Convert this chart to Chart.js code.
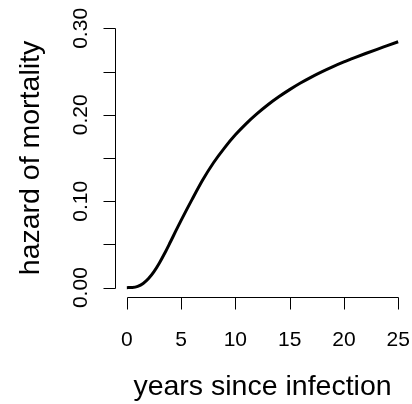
<!DOCTYPE html>
<html>
<head>
<meta charset="utf-8">
<script src="https://cdn.jsdelivr.net/npm/chart.js@4"></script>
<style>
  html, body { margin: 0; padding: 0; background: #fff; }
  canvas { display: block; }
</style>
</head>
<body>
<canvas id="hazardChart" width="412" height="404"></canvas>
<script>
// values
const years = [0, 0.5, 1, 1.5, 2, 2.5, 3, 3.5, 4, 4.5, 5, 6, 7, 8, 9, 10, 11, 12, 13, 14, 15, 16, 17, 18, 19, 20, 21, 22, 23, 24, 25];
const hazard = [0, 0.0002, 0.0015, 0.0048, 0.0105, 0.0185, 0.0285, 0.0400, 0.0525, 0.0653, 0.0778, 0.1018, 0.1248, 0.1448, 0.1618, 0.1768, 0.1898, 0.2013, 0.2116, 0.2208, 0.2291, 0.2367, 0.2436, 0.2499, 0.2557, 0.2611, 0.2661, 0.2709, 0.2755, 0.2800, 0.2845];

const xTicks = [0, 5, 10, 15, 20, 25];
const xTickLabels = ["0", "5", "10", "15", "20", "25"];
const yTicks = [0, 0.05, 0.10, 0.15, 0.20, 0.25, 0.30];
const yTickLabels = ["0.00", "", "0.10", "", "0.20", "", "0.30"];

const xTitle = "years since infection";
const yTitle = "hazard of mortality";

const FONT = '"Liberation Sans", Arial, Helvetica, sans-serif';

// R style detached axes, drawn through the chart's own scales
const rAxes = {
  id: "rAxes",
  afterDraw(chart) {
    const { ctx, scales: { x, y } } = chart;
    ctx.save();
    ctx.strokeStyle = "#000";
    ctx.fillStyle = "#000";
    ctx.lineWidth = 1;

    // x axis
    const xa = 297.5;
    ctx.beginPath();
    ctx.moveTo(Math.round(x.getPixelForValue(xTicks[0])) + 0.5, xa);
    ctx.lineTo(Math.round(x.getPixelForValue(xTicks[xTicks.length - 1])) + 0.5, xa);
    xTicks.forEach((v) => {
      const px = Math.round(x.getPixelForValue(v)) + 0.5;
      ctx.moveTo(px, xa);
      ctx.lineTo(px, xa + 12);
    });
    ctx.stroke();

    ctx.font = "21px " + FONT;
    ctx.textAlign = "center";
    ctx.textBaseline = "alphabetic";
    xTicks.forEach((v, i) => {
      ctx.fillText(xTickLabels[i], x.getPixelForValue(v), 346);
    });

    // y axis
    const ya = 115.5;
    ctx.beginPath();
    ctx.moveTo(ya, Math.round(y.getPixelForValue(yTicks[0])) + 0.5);
    ctx.lineTo(ya, Math.round(y.getPixelForValue(yTicks[yTicks.length - 1])) + 0.5);
    yTicks.forEach((v) => {
      const py = Math.round(y.getPixelForValue(v)) + 0.5;
      ctx.moveTo(ya, py);
      ctx.lineTo(ya - 12, py);
    });
    ctx.stroke();

    yTicks.forEach((v, i) => {
      if (!yTickLabels[i]) return;
      ctx.save();
      ctx.translate(87, y.getPixelForValue(v));
      ctx.rotate(-Math.PI / 2);
      ctx.fillText(yTickLabels[i], 0, 0);
      ctx.restore();
    });

    // titles
    ctx.font = "28.5px " + FONT;
    const xc = (x.getPixelForValue(xTicks[0]) + x.getPixelForValue(xTicks[xTicks.length - 1])) / 2;
    ctx.fillText(xTitle, xc, 395);

    const yc = (y.getPixelForValue(yTicks[0]) + y.getPixelForValue(yTicks[yTicks.length - 1])) / 2;
    ctx.save();
    ctx.translate(38.5, yc);
    ctx.rotate(-Math.PI / 2);
    ctx.fillText(yTitle, 0, 0);
    ctx.restore();

    ctx.restore();
  },
};

new Chart(document.getElementById("hazardChart"), {
  type: "line",
  data: {
    datasets: [{
      data: years.map((t, i) => ({ x: t, y: hazard[i] })),
      borderColor: "#000",
      borderWidth: 3,
      pointRadius: 0,
      cubicInterpolationMode: "monotone",
      fill: false,
    }],
  },
  options: {
    responsive: false,
    devicePixelRatio: 1,
    animation: false,
    layout: { padding: { left: 116, right: 3, top: 18, bottom: 106 } },
    plugins: { legend: { display: false }, tooltip: { enabled: false } },
    scales: {
      x: { type: "linear", display: false, min: -1, max: 26 },
      y: { type: "linear", display: false, min: -0.012, max: 0.312 },
    },
  },
  plugins: [rAxes],
});
</script>
</body>
</html>
